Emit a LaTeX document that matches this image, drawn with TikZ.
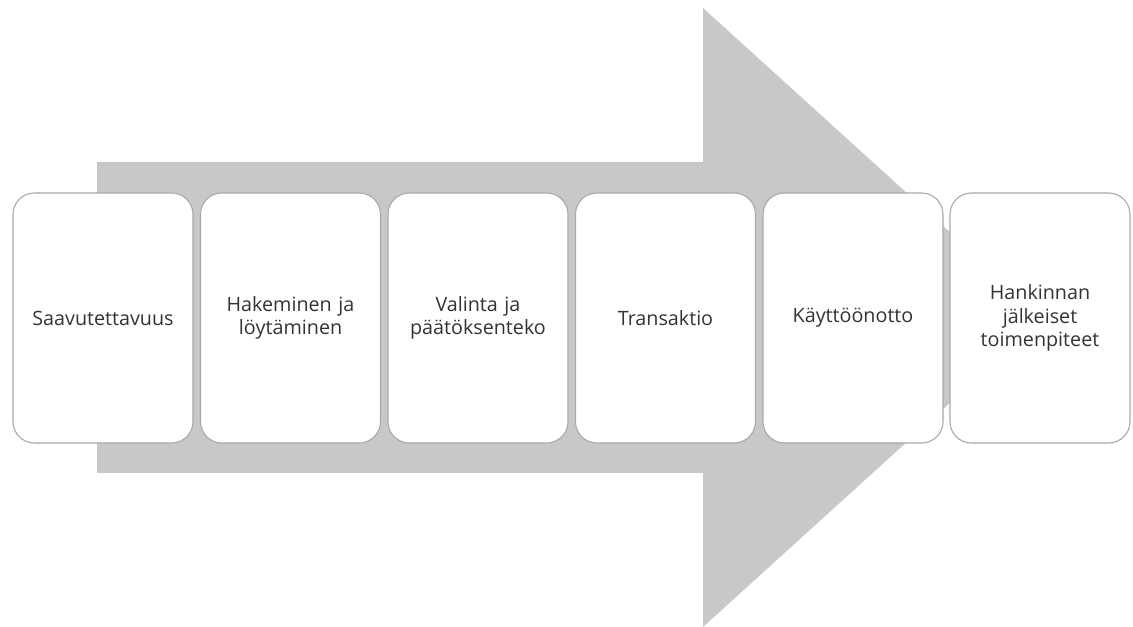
\documentclass[tikz,border=0pt]{standalone}
\usepackage{fontspec}
\setmainfont{Open Sans}
\definecolor{arrowgray}{HTML}{C8C8C8}
\definecolor{boxline}{HTML}{A8A8A8}
\begin{document}
\begin{tikzpicture}[x=0.75pt,y=-0.75pt,
  stage/.style={draw=boxline,line width=0.8pt,fill=white,rounded corners=16pt,
    minimum width=135pt,minimum height=187.5pt,inner sep=0pt,
    text width=128pt,align=center,font=\fontsize{14.8}{17.6}\selectfont,text=black!80},
  ]
\useasboundingbox (0,0) rectangle (1133,627);
\fill[arrowgray] (97,162) -- (703,162) -- (703,8) -- (1044,317.5) -- (703,627) -- (703,473) -- (97,473) -- cycle;
\node[stage] (s1) at (103,318) {Saavutettavuus};
\node[stage] (s2) at (290.5,318) {Hakeminen ja\\löytäminen};
\node[stage] (s3) at (478,318) {Valinta ja\\päätöksenteko};
\node[stage] (s4) at (665.5,318) {Transaktio};
\node[stage] (s5) at (853,318) {Käyttöönotto};
\node[stage] (s6) at (1040,318) {Hankinnan\\jälkeiset\\toimenpiteet};
\end{tikzpicture}
\end{document}
